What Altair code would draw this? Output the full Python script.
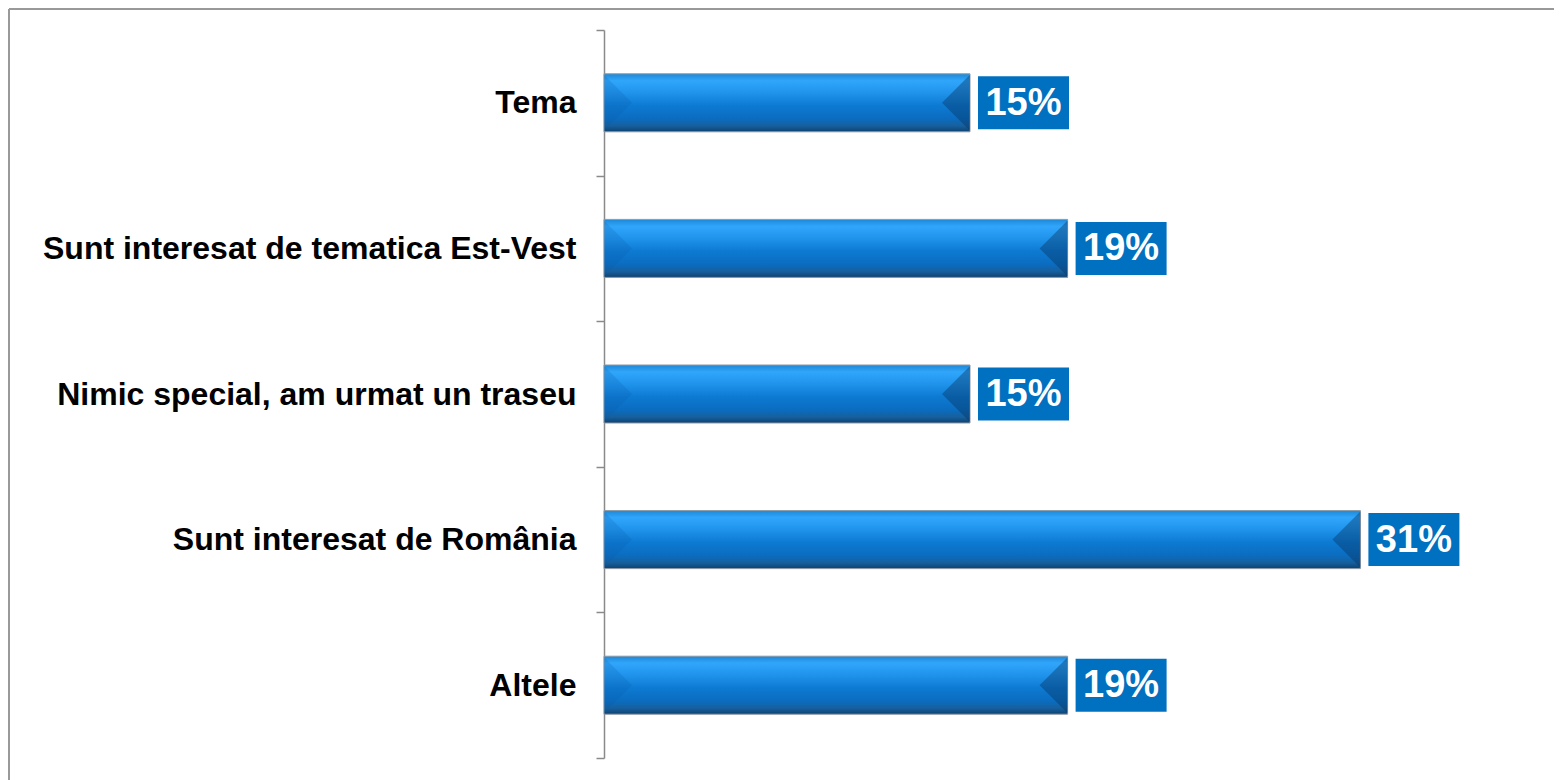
import altair as alt
import pandas as pd

categories = [
    "Tema",
    "Sunt interesat de tematica Est-Vest",
    "Nimic special, am urmat un traseu",
    "Sunt interesat de România",
    "Altele",
]
values = [15, 19, 15, 31, 19]
labels = ["15%", "19%", "15%", "31%", "19%"]

df = pd.DataFrame({"category": categories, "value": values, "label": labels})

W = 1545
H = 790

y_enc = alt.Y(
    "category:N",
    sort=categories,
    scale=alt.Scale(range=[21, 749], paddingInner=0, paddingOuter=0),
    axis=alt.Axis(
        title=None,
        tickBand="extent",
        tickSize=8,
        tickColor="#8a8a8a",
        tickWidth=1.5,
        domainColor="#8a8a8a",
        domainWidth=1.5,
        labelFont="Liberation Sans",
        labelFontSize=32,
        labelFontWeight="bold",
        labelColor="#000000",
        labelPadding=20,
        labelLimit=1000,
        offset=-595,
    ),
)
x_scale = alt.Scale(domain=[0, 40], range=[595, 1571], nice=False, zero=False)
x_enc = alt.X("value:Q", scale=x_scale, axis=None)

grad = alt.Gradient(
    gradient="linear",
    x1=0, x2=0, y1=0, y2=1,
    stops=[
        alt.GradientStop(offset=0.0, color="#1e88d8"),
        alt.GradientStop(offset=0.12, color="#30a6fb"),
        alt.GradientStop(offset=0.3, color="#2296ee"),
        alt.GradientStop(offset=0.55, color="#0d7ad2"),
        alt.GradientStop(offset=0.78, color="#0b6cbf"),
        alt.GradientStop(offset=0.9, color="#175f9c"),
        alt.GradientStop(offset=1.0, color="#0d4270"),
    ],
)

base = alt.Chart(df).encode(y=y_enc)

bars = base.mark_bar(
    height=58, color=grad, stroke="#8e99a4", strokeWidth=1
).encode(x=x_enc)

right_bevel = base.mark_point(
    shape="M0,-0.56L-0.56,0L0,0.56Z",
    size=10000,
    filled=True,
    color="#06325e",
    opacity=0.4,
    strokeWidth=0,
).encode(x=x_enc)

left_bevel = base.mark_point(
    shape="M0,-0.56L0.56,0L0,0.56Z",
    size=10000,
    filled=True,
    color="#0a5aa8",
    opacity=0.2,
    strokeWidth=0,
).encode(x=alt.X(datum=0, scale=x_scale, axis=None))

boxes = base.mark_bar(
    height=53, color="#0070C0", xOffset=8, x2Offset=99
).encode(x=x_enc, x2=alt.X2("value:Q"))

texts = base.mark_text(
    dx=53.5,
    dy=1,
    align="center",
    baseline="middle",
    color="white",
    font="Liberation Sans",
    fontSize=38,
    fontWeight="bold",
).encode(x=x_enc, text="label:N")

frame_df = pd.DataFrame({"k": [0]})
top_border = alt.Chart(frame_df).mark_rule(color="#999999", strokeWidth=2).encode(
    x=alt.value(0), x2=alt.value(W), y=alt.value(0)
)
left_border = alt.Chart(frame_df).mark_rule(color="#999999", strokeWidth=2).encode(
    x=alt.value(0), y=alt.value(0), y2=alt.value(H)
)

chart = (
    alt.layer(bars, left_bevel, right_bevel, boxes, texts, top_border, left_border)
    .properties(
        width=W,
        height=H,
        padding={"left": 1, "top": 1, "right": 0, "bottom": 0},
        autosize=alt.AutoSizeParams(type="none"),
    )
    .configure_view(stroke=None)
    .configure(background="white")
)

chart.save("out.html", embed_options={"renderer": "svg", "actions": False})
